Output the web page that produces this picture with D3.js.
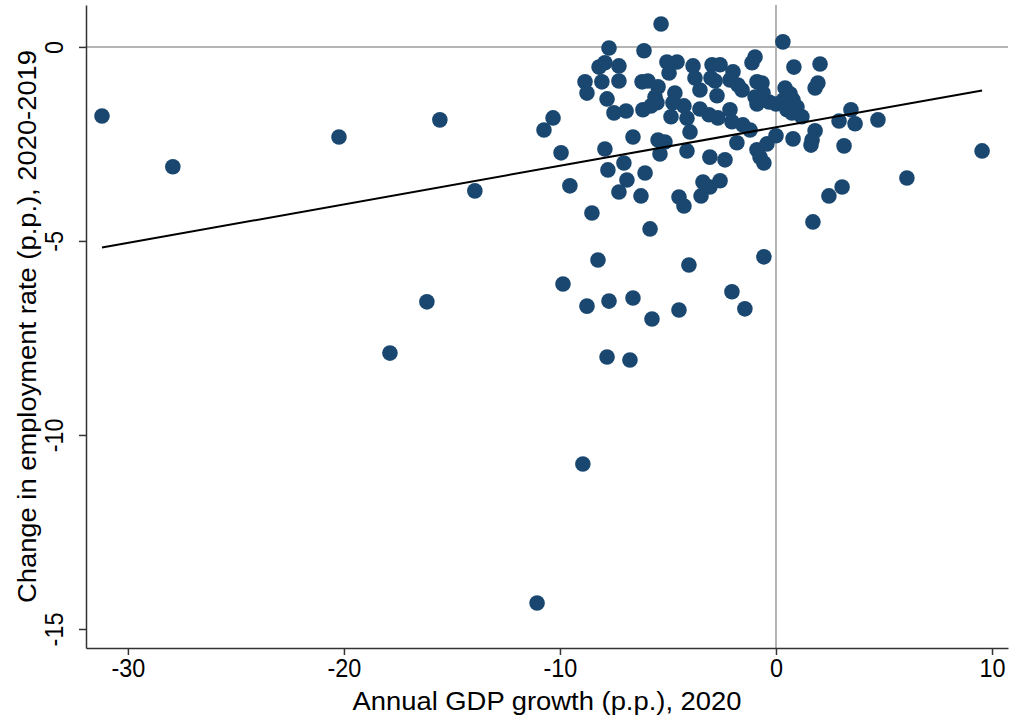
<!DOCTYPE html>
<html>
<head>
<meta charset="utf-8">
<script src="https://cdn.jsdelivr.net/npm/d3@7"></script>
<style>
  html, body { margin: 0; padding: 0; background: #fff; }
  svg { display: block; }
</style>
</head>
<body>
<svg id="chart" width="1010" height="721"></svg>
<script>
// Annual GDP growth 2020 (x) vs change in employment rate 2020-2019 (y)
const gdpGrowth = [
  -31.20, -27.92, -20.23, -15.56, -13.94, -16.16, -17.87,
  -11.06, -8.94, -9.86, -8.75, -7.73, -6.62, -5.74, -4.49, -2.04, -1.44, -7.82, -6.76,
  -8.24, -4.03, -0.56, -8.52, -5.83, 1.71, -9.54, -7.27, -6.25, -4.49, -4.26, -3.47,
  -3.06, -2.59, -3.38,
  -7.78, -7.04, -6.90, -6.06, -9.95, -7.92, -6.62, -5.46, -5.14, -5.37, -4.12, -3.06,
  -2.36, -1.81, -0.88, -0.74, -0.56, -0.42, 0.00, 0.79, -10.32, -10.74,
  0.32, 0.83, 2.04, 1.94, 1.81, 0.42, 0.65, 0.79, 0.97, 0.51, 0.74, 1.20, 2.92, 3.47,
  3.66, 4.72, 1.81, 1.67, 1.62, 3.15, 6.06, 3.06, 2.45, 9.54, -0.88, -0.32, 0.00, 0.34,
  -5.32, -7.73, -6.11, -8.19, -7.92, -7.27, -8.84, -8.75, -8.06, -7.27, -7.82, -7.50,
  -6.94, -6.20, -5.93, -5.46, -5.60, -6.16, -5.79, -5.51, -5.05, -4.58, -4.95, -4.68,
  -4.86, -4.26, -3.84, -3.75, -2.96, -2.59, -3.01, -2.82, -2.73, -1.99, -2.13, -1.76,
  -1.57, -0.97, -1.11, -0.88, -0.65, -3.52, -0.60, -3.52, -2.13, -4.77, -3.10, -2.69,
  -2.04, -1.53, -1.20, -3.98, -0.97, -4.12
];
const empChange = [
  -1.78, -3.09, -2.32, -1.88, -3.71, -6.57, -7.89,
  -14.33, -10.75, -6.11, -6.68, -6.55, -6.47, -7.01, -6.78, -6.31, -6.75, -7.99, -8.07,
  -5.49, -5.62, -5.41, -4.28, -4.69, -4.51, -3.58, -3.74, -3.84, -3.87, -4.10, -3.84,
  -3.61, -3.45, -3.48,
  -3.17, -2.99, -3.43, -3.25, -2.73, -2.63, -2.32, -2.40, -2.45, -2.76, -2.68, -2.84,
  -2.91, -2.47, -2.65, -2.84, -2.99, -2.50, -2.29, -2.37, -1.83, -2.14,
  0.13, -0.52, -0.44, -0.93, -1.06, -1.06, -1.21, -1.37, -1.55, -1.62, -1.70, -1.80,
  -1.91, -1.62, -1.98, -1.88, -2.16, -2.40, -2.53, -2.55, -3.38, -3.61, -3.84, -2.68,
  -1.47, -1.42, -1.47, -1.37,
  0.59, -0.03, -0.10, -0.52, -0.41, -0.49, -0.90, -1.19, -0.90, -0.88, -1.34, -1.70,
  -1.65, -0.90, -0.88, -1.03, -1.29, -1.62, -1.52, -1.44, -0.39, -0.39, -0.67, -1.19,
  -1.80, -1.52, -0.49, -0.80, -0.46, -0.46, -0.80, -0.88, -1.26, -0.64, -0.85, -0.98,
  -1.11, -0.26, -0.41, -0.90, -0.93, -1.11, -1.19, -1.60, -1.62, -1.44, -1.75, -1.83,
  -1.93, -2.01, -2.14, -2.19, -1.29, -1.84
];

// linear fit shown on the chart: [intercept, slope], drawn over the x range of the data
const fitCoef = [-2.07, 0.0994];

const xTicks = [-30, -20, -10, 0, 10];
const yTicks = [0, -5, -10, -15];
const xTitle = 'Annual GDP growth (p.p.), 2020';
const yTitle = 'Change in employment rate (p.p.), 2020-2019';

const points = gdpGrowth.map((g, i) => ({ x: g, y: empChange[i] }));

const svg = d3.select('#chart');
const plot = { left: 86, right: 1008, top: 5, bottom: 648 };

const x = d3.scaleLinear().domain([-31.94, 10.74]).range([plot.left, plot.right]);
const y = d3.scaleLinear().domain([-15.49, 1.08]).range([plot.bottom, plot.top]);

const font = 'Arial, "Liberation Sans", sans-serif';

// the original font is a bit narrower than Arial, squeeze text horizontally
function narrow(sel, k) {
    sel.each(function() {
        const w = this.getComputedTextLength();
        d3.select(this)
            .attr('textLength', w * k)
            .attr('lengthAdjust', 'spacingAndGlyphs');
    });
}

svg.append('rect').attr('width', 1010).attr('height', 721).attr('fill', '#fff');

// reference lines at zero
svg.append('line')
    .attr('x1', plot.left).attr('x2', plot.right)
    .attr('y1', y(0)).attr('y2', y(0))
    .attr('stroke', '#b4b4b4').attr('stroke-width', 2);
svg.append('line')
    .attr('x1', x(0)).attr('x2', x(0))
    .attr('y1', plot.top).attr('y2', plot.bottom)
    .attr('stroke', '#b4b4b4').attr('stroke-width', 2);

// markers
svg.append('g')
    .selectAll('circle')
    .data(points)
    .enter()
    .append('circle')
    .attr('cx', d => x(d.x))
    .attr('cy', d => y(d.y))
    .attr('r', 7.8)
    .attr('fill', '#1a476f');

// fitted line
const xExt = d3.extent(gdpGrowth);
const fitPts = xExt.map(v => ({ x: v, y: fitCoef[0] + fitCoef[1] * v }));
svg.append('path')
    .datum(fitPts)
    .attr('d', d3.line().x(d => x(d.x)).y(d => y(d.y)))
    .attr('fill', 'none')
    .attr('stroke', '#000')
    .attr('stroke-width', 2);

// axes
const gx = svg.append('g')
    .attr('transform', `translate(0,${plot.bottom})`)
    .call(d3.axisBottom(x).tickValues(xTicks).tickSize(7).tickSizeOuter(0).tickFormat(d => String(d)));
gx.select('.domain').attr('stroke', '#333').attr('stroke-width', 1.5);
gx.selectAll('.tick line').attr('stroke', '#333').attr('stroke-width', 1.5);
gx.selectAll('.tick text')
    .attr('y', 11).attr('dy', '0.71em')
    .attr('font-family', font).attr('font-size', 26).attr('fill', '#000')
    .call(narrow, 0.9);

const gy = svg.append('g')
    .attr('transform', `translate(${plot.left},0)`)
    .call(d3.axisLeft(y).tickValues(yTicks).tickSize(7).tickSizeOuter(0).tickFormat(d => String(d)));
gy.select('.domain').attr('stroke', '#333').attr('stroke-width', 1.5);
gy.selectAll('.tick line').attr('stroke', '#333').attr('stroke-width', 1.5);
gy.selectAll('.tick text')
    .attr('x', 0).attr('dy', 0)
    .attr('text-anchor', 'middle')
    .attr('transform', 'translate(-23,0) rotate(-90)')
    .attr('font-family', font).attr('font-size', 26).attr('fill', '#000')
    .call(narrow, 0.9);

// axis titles
svg.append('text')
    .attr('x', (plot.left + plot.right) / 2)
    .attr('y', 710)
    .attr('text-anchor', 'middle')
    .attr('font-family', font).attr('font-size', 26)
    .attr('textLength', 389).attr('lengthAdjust', 'spacingAndGlyphs')
    .text(xTitle);

svg.append('text')
    .attr('transform', `translate(36,${(plot.top + plot.bottom) / 2}) rotate(-90)`)
    .attr('text-anchor', 'middle')
    .attr('font-family', font).attr('font-size', 26)
    .attr('textLength', 553).attr('lengthAdjust', 'spacingAndGlyphs')
    .text(yTitle);
</script>
</body>
</html>
